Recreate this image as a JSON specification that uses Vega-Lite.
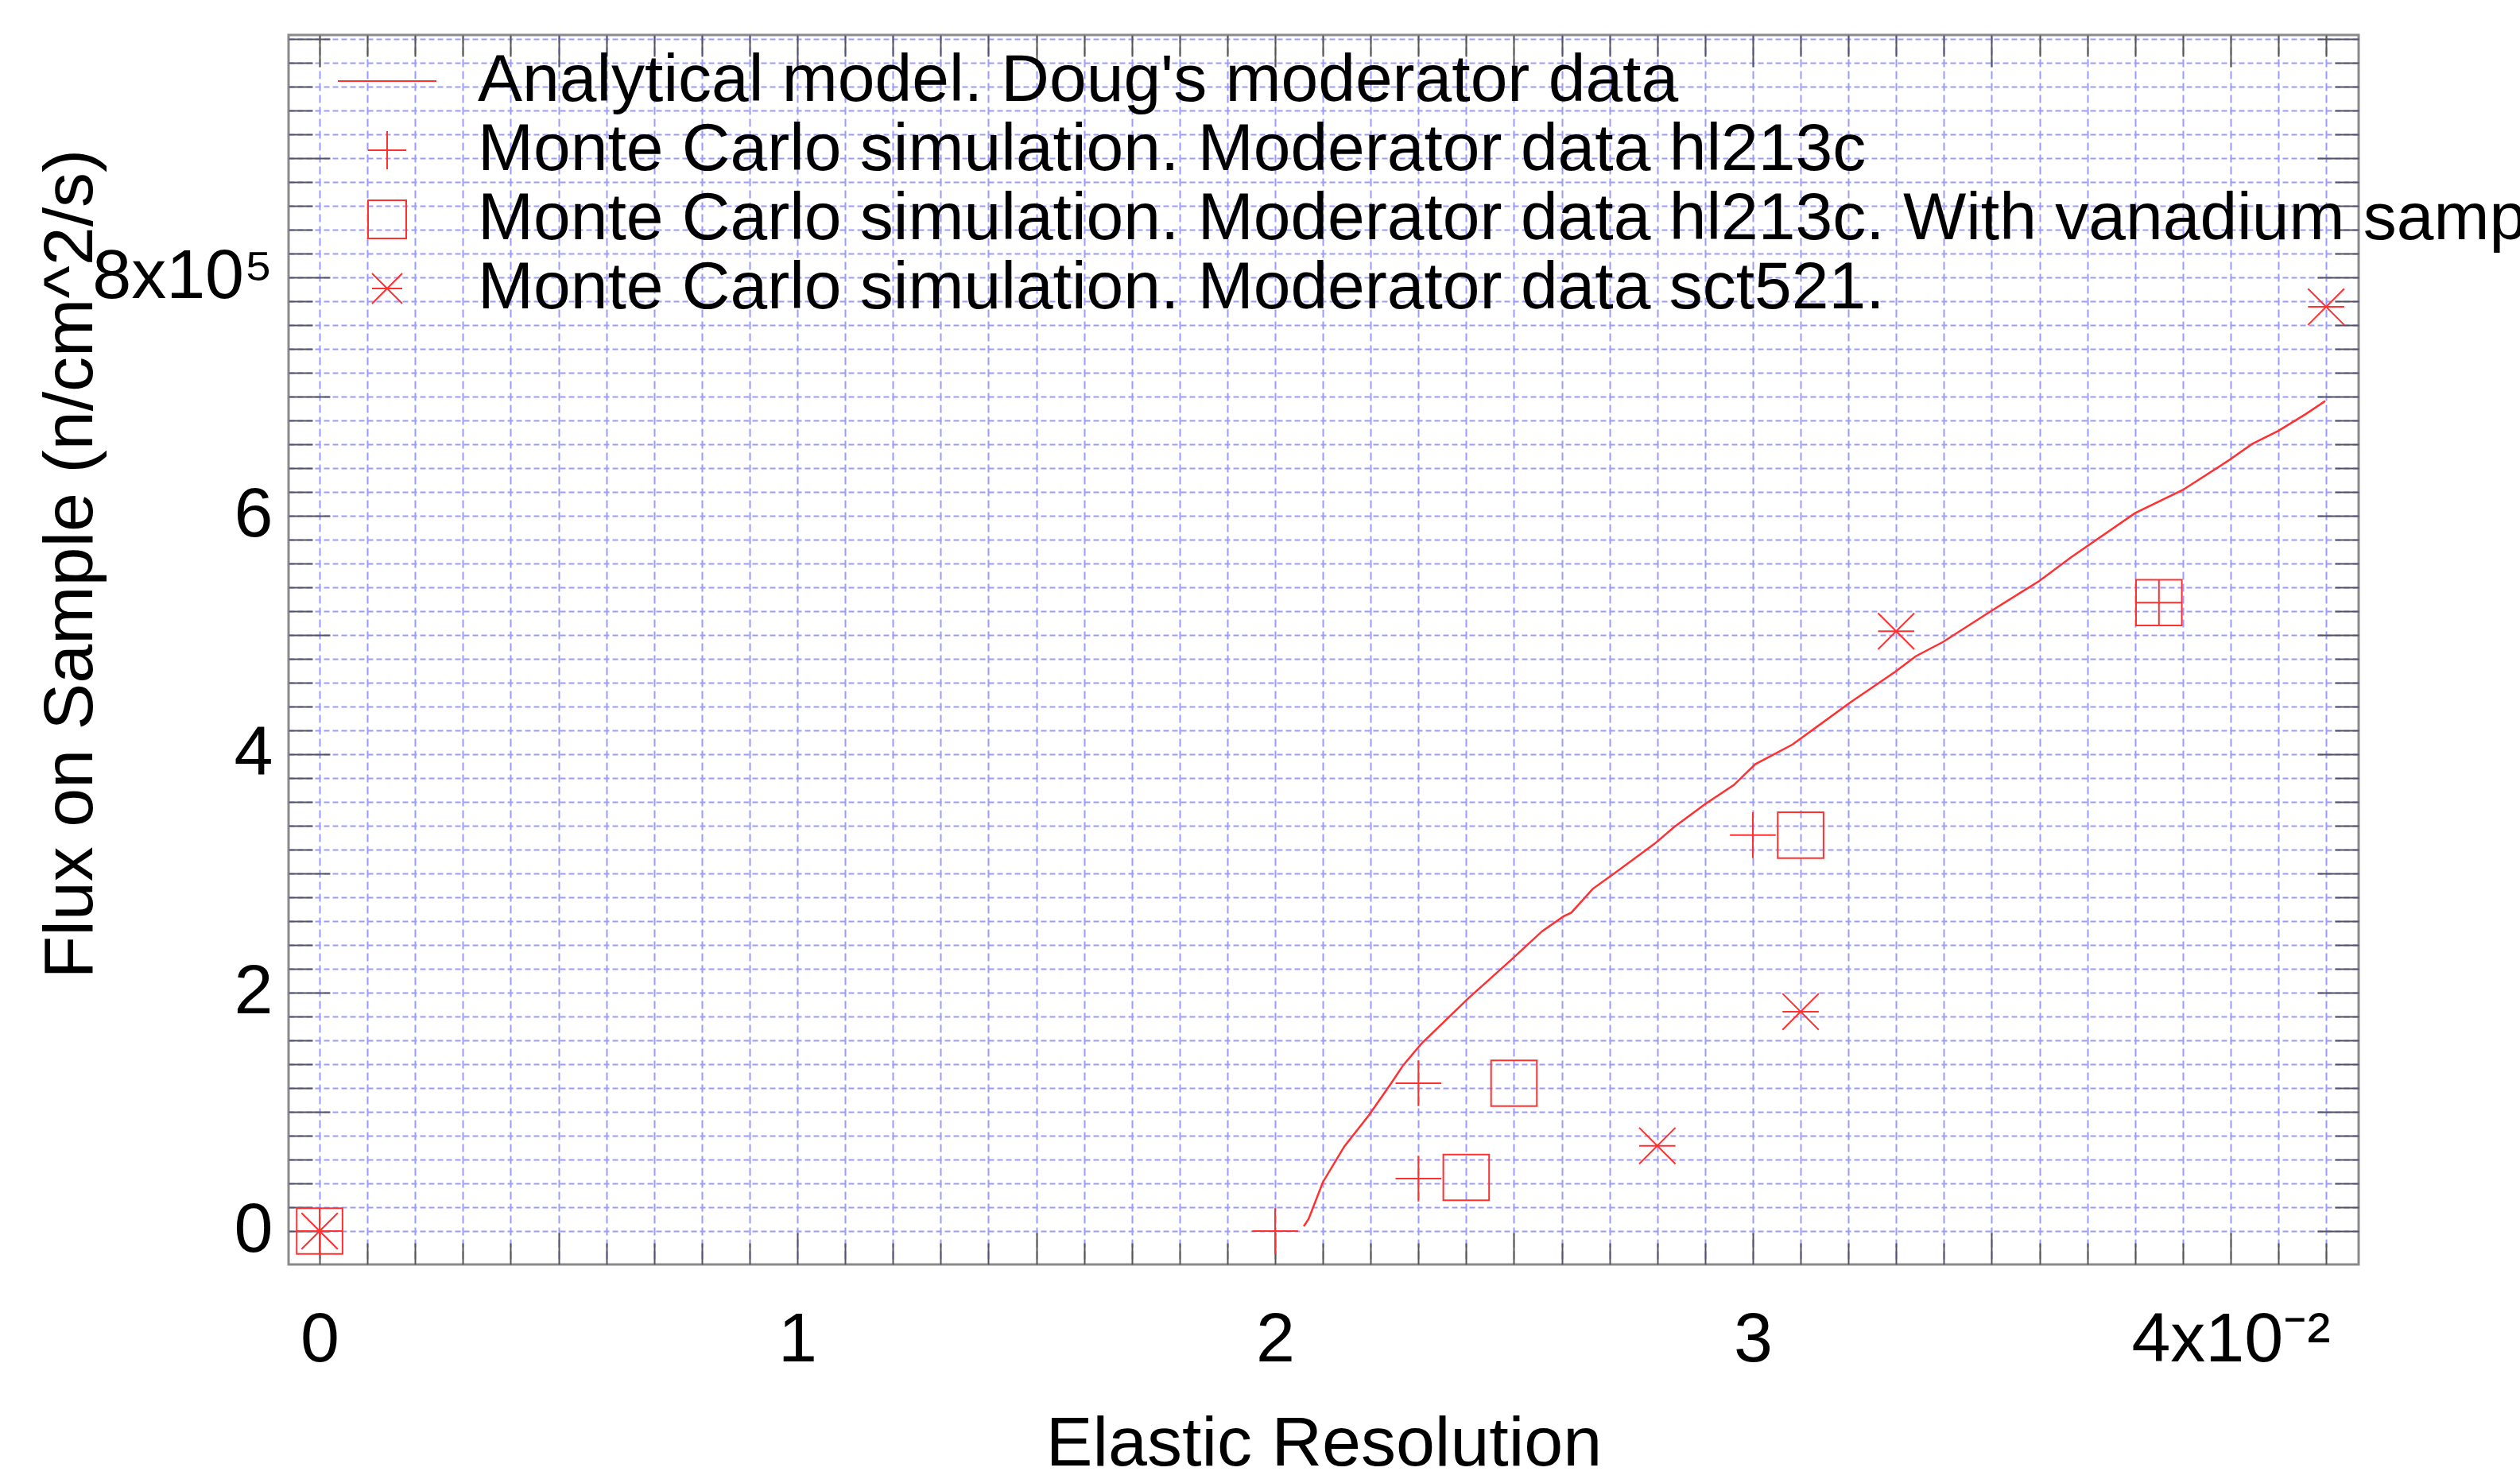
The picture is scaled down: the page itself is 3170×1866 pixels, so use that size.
{
  "$schema": "https://vega.github.io/schema/vega-lite/v6.json",
  "width": 2604,
  "height": 1547,
  "autosize": {"type": "none"},
  "padding": {"left": 363, "top": 44, "right": 203, "bottom": 275},
  "background": "white",
  "config": {
    "view": {"stroke": "#8a8a8a", "strokeWidth": 3},
    "font": "Liberation Sans"
  },
  "datasets": {
    "model": [
      {"res": 0.0206, "flux": 4000}, {"res": 0.0207, "flux": 10000}, {"res": 0.0210, "flux": 41000},
      {"res": 0.02145, "flux": 71000}, {"res": 0.02196, "flux": 97000}, {"res": 0.02243, "flux": 124000},
      {"res": 0.02268, "flux": 139000}, {"res": 0.02306, "flux": 157000}, {"res": 0.02404, "flux": 195000},
      {"res": 0.02493, "flux": 227000}, {"res": 0.02559, "flux": 251500}, {"res": 0.02604, "flux": 264000},
      {"res": 0.0262, "flux": 267000}, {"res": 0.02665, "flux": 287000}, {"res": 0.0270, "flux": 297000},
      {"res": 0.02795, "flux": 325000}, {"res": 0.02836, "flux": 339000}, {"res": 0.0290, "flux": 358000},
      {"res": 0.0296, "flux": 374000}, {"res": 0.03005, "flux": 391500}, {"res": 0.03083, "flux": 408000},
      {"res": 0.03203, "flux": 443000}, {"res": 0.03298, "flux": 469000}, {"res": 0.03341, "flux": 482000},
      {"res": 0.03398, "flux": 494000}, {"res": 0.03499, "flux": 520000}, {"res": 0.03599, "flux": 545000},
      {"res": 0.03666, "flux": 565000}, {"res": 0.0380, "flux": 602000}, {"res": 0.0390, "flux": 621500},
      {"res": 0.03995, "flux": 646000}, {"res": 0.04045, "flux": 660000}, {"res": 0.0410, "flux": 671000},
      {"res": 0.04157, "flux": 685000}, {"res": 0.04198, "flux": 696000}
    ],
    "mc": [
      {"series": "Monte Carlo simulation. Moderator data hl213c", "res": 0.0, "flux": 0},
      {"series": "Monte Carlo simulation. Moderator data hl213c", "res": 0.020, "flux": 0},
      {"series": "Monte Carlo simulation. Moderator data hl213c", "res": 0.023, "flux": 124000},
      {"series": "Monte Carlo simulation. Moderator data hl213c", "res": 0.023, "flux": 44000},
      {"series": "Monte Carlo simulation. Moderator data hl213c", "res": 0.030, "flux": 332000},
      {"series": "Monte Carlo simulation. Moderator data hl213c", "res": 0.0385, "flux": 527000},
      {"series": "Monte Carlo simulation. Moderator data hl213c. With vanadium sample", "res": 0.0, "flux": 0},
      {"series": "Monte Carlo simulation. Moderator data hl213c. With vanadium sample", "res": 0.024, "flux": 45000},
      {"series": "Monte Carlo simulation. Moderator data hl213c. With vanadium sample", "res": 0.025, "flux": 124000},
      {"series": "Monte Carlo simulation. Moderator data hl213c. With vanadium sample", "res": 0.031, "flux": 332000},
      {"series": "Monte Carlo simulation. Moderator data hl213c. With vanadium sample", "res": 0.0385, "flux": 527000},
      {"series": "Monte Carlo simulation. Moderator data sct521.", "res": 0.0, "flux": 0},
      {"series": "Monte Carlo simulation. Moderator data sct521.", "res": 0.028, "flux": 71500},
      {"series": "Monte Carlo simulation. Moderator data sct521.", "res": 0.031, "flux": 184000},
      {"series": "Monte Carlo simulation. Moderator data sct521.", "res": 0.033, "flux": 503000},
      {"series": "Monte Carlo simulation. Moderator data sct521.", "res": 0.042, "flux": 775000}
    ]
  },
  "resolve": {"axis": {"x": "independent", "y": "independent"}},
  "layer": [
    {
      "data": {"name": "model"},
      "mark": {"type": "line", "color": "#ff3030", "strokeWidth": 2.5},
      "encoding": {
        "x": {
          "field": "res", "type": "quantitative",
          "scale": {"domain": [-0.00065, 0.04268], "nice": false, "zero": false},
          "axis": {
            "orient": "bottom",
            "values": [0,0.001,0.002,0.003,0.004,0.005,0.006,0.007,0.008,0.009,0.01,0.011,0.012,0.013,0.014,0.015,0.016,0.017,0.018,0.019,0.02,0.021,0.022,0.023,0.024,0.025,0.026,0.027,0.028,0.029,0.03,0.031,0.032,0.033,0.034,0.035,0.036,0.037,0.038,0.039,0.04,0.041,0.042],
            "grid": true, "gridColor": "#9a9aff", "gridDash": [10, 5], "gridWidth": 2,
            "domain": false, "tickColor": "#555555", "tickWidth": 2,
            "tickSize": {"condition": {"test": "abs(datum.value*200-round(datum.value*200))<0.001", "value": -40}, "value": -27},
            "labelExpr": "abs(datum.value*100-round(datum.value*100))<0.001 ? (round(datum.value*100)==4 ? '4x10⁻²' : ''+round(datum.value*100)) : ''",
            "labelFont": "Liberation Sans", "labelFontSize": 88, "labelColor": "black", "labelLimit": 1000,
            "labelPadding": 91, "labelOverlap": false, "labelFlush": false, "labelBound": false,
            "title": "Elastic Resolution", "titleFont": "Liberation Sans", "titleFontSize": 88,
            "titleFontWeight": "normal", "titleColor": "black", "titleBaseline": "alphabetic", "titleY": 252
          }
        },
        "y": {
          "field": "flux", "type": "quantitative",
          "scale": {"domain": [-28000, 1003000], "nice": false, "zero": false},
          "axis": {
            "orient": "left",
            "values": [0,20000,40000,60000,80000,100000,120000,140000,160000,180000,200000,220000,240000,260000,280000,300000,320000,340000,360000,380000,400000,420000,440000,460000,480000,500000,520000,540000,560000,580000,600000,620000,640000,660000,680000,700000,720000,740000,760000,780000,800000,820000,840000,860000,880000,900000,920000,940000,960000,980000,1000000],
            "grid": true, "gridColor": "#9a9aff", "gridDash": [7, 4], "gridWidth": 2,
            "domain": false, "tickColor": "#555555", "tickWidth": 2,
            "tickSize": {"condition": {"test": "datum.value % 100000 == 0", "value": -52}, "value": -30},
            "labelExpr": "(datum.value % 200000 == 0 && datum.value <= 800000) ? (datum.value == 800000 ? '8x10⁵' : ''+round(datum.value/100000)) : ''",
            "labelFont": "Liberation Sans", "labelFontSize": 88, "labelColor": "black", "labelLimit": 1000,
            "labelPadding": 72, "labelOverlap": false, "labelFlush": false, "labelBound": false,
            "title": "Flux on Sample (n/cm^2/s)", "titleFont": "Liberation Sans", "titleFontSize": 88,
            "titleFontWeight": "normal", "titleColor": "black", "titleAngle": -90,
            "titleBaseline": "alphabetic", "titleAlign": "center", "titleX": -248, "titleY": 665
          }
        }
      }
    },
    {
      "data": {"name": "mc"},
      "mark": {"type": "point", "filled": false, "color": "#ff3030", "strokeWidth": 2, "size": 2304, "opacity": 1},
      "encoding": {
        "x": {
          "field": "res", "type": "quantitative",
          "scale": {"domain": [-0.00065, 0.04268], "nice": false, "zero": false},
          "axis": {
            "orient": "top",
            "values": [0,0.001,0.002,0.003,0.004,0.005,0.006,0.007,0.008,0.009,0.01,0.011,0.012,0.013,0.014,0.015,0.016,0.017,0.018,0.019,0.02,0.021,0.022,0.023,0.024,0.025,0.026,0.027,0.028,0.029,0.03,0.031,0.032,0.033,0.034,0.035,0.036,0.037,0.038,0.039,0.04,0.041,0.042],
            "grid": false, "domain": false, "labels": false, "title": null,
            "tickColor": "#555555", "tickWidth": 2,
            "tickSize": {"condition": {"test": "abs(datum.value*200-round(datum.value*200))<0.001", "value": -40}, "value": -27}
          }
        },
        "y": {
          "field": "flux", "type": "quantitative",
          "scale": {"domain": [-28000, 1003000], "nice": false, "zero": false},
          "axis": {
            "orient": "right",
            "values": [0,20000,40000,60000,80000,100000,120000,140000,160000,180000,200000,220000,240000,260000,280000,300000,320000,340000,360000,380000,400000,420000,440000,460000,480000,500000,520000,540000,560000,580000,600000,620000,640000,660000,680000,700000,720000,740000,760000,780000,800000,820000,840000,860000,880000,900000,920000,940000,960000,980000,1000000],
            "grid": false, "domain": false, "labels": false, "title": null,
            "tickColor": "#555555", "tickWidth": 2,
            "tickSize": {"condition": {"test": "datum.value % 100000 == 0", "value": -52}, "value": -30}
          }
        },
        "shape": {
          "field": "series", "type": "nominal",
          "scale": {
            "domain": [
              "Analytical model. Doug's moderator data",
              "Monte Carlo simulation. Moderator data hl213c",
              "Monte Carlo simulation. Moderator data hl213c. With vanadium sample",
              "Monte Carlo simulation. Moderator data sct521."
            ],
            "range": [
              "M-3.1,0H3.1",
              "M-1.2,0H1.2M0,-1.2V1.2",
              "M-1.2,-1.2H1.2V1.2H-1.2Z",
              "M-0.95,0H0.95M-0.95,-0.95L0.95,0.95M0.95,-0.95L-0.95,0.95"
            ]
          },
          "legend": {
            "orient": "none", "legendX": 82, "legendY": 16, "title": null, "padding": 0,
            "labelFont": "Liberation Sans", "labelFontSize": 84, "labelColor": "black", "labelLimit": 5000,
            "labelOffset": 72, "symbolSize": 1600, "symbolStrokeColor": "#ff3030", "symbolStrokeWidth": 2,
            "symbolFillColor": "transparent", "symbolOpacity": 1, "rowPadding": 3
          }
        }
      }
    }
  ]
}
